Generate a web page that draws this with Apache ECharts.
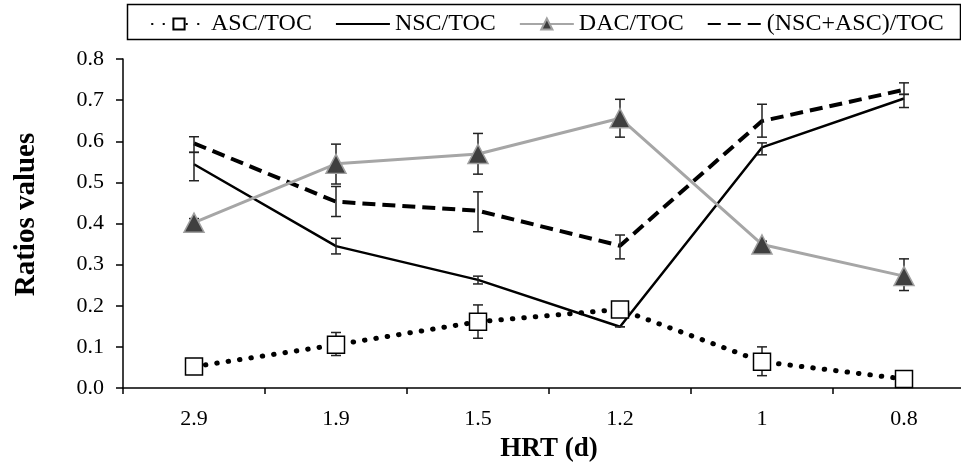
<!DOCTYPE html>
<html>
<head>
<meta charset="utf-8">
<script src="https://cdn.jsdelivr.net/npm/echarts@6/dist/echarts.min.js"></script>
<style>html,body{margin:0;padding:0;background:#fff;}#c{width:961px;height:468px;}</style>
</head>
<body>
<div id="c"></div>
<script>
const categories = ['2.9', '1.9', '1.5', '1.2', '1', '0.8'];
const yTicks = [0, 0.1, 0.2, 0.3, 0.4, 0.5, 0.6, 0.7, 0.8];

const ascToc = [0.052, 0.105, 0.161, 0.191, 0.064, 0.022];
const nscToc = [0.544, 0.345, 0.263, 0.149, 0.585, 0.704];
const dacToc = [0.402, 0.545, 0.569, 0.656, 0.349, 0.272];
const sumToc = [0.595, 0.453, 0.431, 0.346, 0.649, 0.725];

const ascErrLow  = [0.048, 0.079, 0.121, 0.185, 0.030, 0.020];
const ascErrHigh = [0.056, 0.135, 0.202, 0.197, 0.100, 0.025];
const nscErrLow  = [0.504, 0.326, 0.253, 0.149, 0.567, 0.682];
const nscErrHigh = [0.573, 0.364, 0.272, 0.149, 0.596, 0.714];
const dacErrLow  = [0.398, 0.496, 0.520, 0.610, 0.340, 0.237];
const dacErrHigh = [0.412, 0.593, 0.619, 0.702, 0.357, 0.314];
const sumErrLow  = [0.573, 0.417, 0.380, 0.314, 0.610, 0.714];
const sumErrHigh = [0.611, 0.490, 0.477, 0.372, 0.690, 0.742];

const FONT = 'Liberation Serif';

function errData(lo, hi) { return lo.map((l, i) => [i, l, hi[i]]); }
function errSeries(lo, hi) {
  return {
    type: 'custom',
    data: errData(lo, hi),
    z: 3,
    silent: true,
    renderItem: function (params, api) {
      const x = api.value(0);
      const a = api.coord([x, api.value(1)]);
      const b = api.coord([x, api.value(2)]);
      const w = 5;
      const st = { stroke: '#222', lineWidth: 1.5 };
      return {
        type: 'group',
        children: [
          { type: 'line', shape: { x1: a[0], y1: a[1], x2: b[0], y2: b[1] }, style: st },
          { type: 'line', shape: { x1: a[0] - w, y1: a[1], x2: a[0] + w, y2: a[1] }, style: st },
          { type: 'line', shape: { x1: b[0] - w, y1: b[1], x2: b[0] + w, y2: b[1] }, style: st }
        ]
      };
    }
  };
}

const hidden = { color: 'rgba(0,0,0,0)', borderWidth: 0, opacity: 0 };

const chart = echarts.init(document.getElementById('c'), null, { renderer: 'canvas' });
chart.setOption({
  animation: false,
  backgroundColor: '#fff',
  textStyle: { fontFamily: FONT },
  graphic: [{
    type: 'rect', left: 125, top: 2,
    shape: { width: 833, height: 35 },
    style: { fill: 'none', stroke: '#000', lineWidth: 1.5 }, z: 0
  }],
  legend: {
    top: 7, left: 146,
    itemWidth: 54, itemHeight: 14, itemGap: 23,
    textStyle: { fontFamily: FONT, fontSize: 24, color: '#000', padding: [0, 0, 0, 0] },
    data: [
      { name: 'ASC/TOC' },
      { name: 'NSC/TOC', itemStyle: hidden },
      { name: 'DAC/TOC' },
      { name: '(NSC+ASC)/TOC', itemStyle: hidden }
    ]
  },
  grid: { left: 123, width: 852, top: 59, bottom: 80, containLabel: false, outerBoundsMode: 'none' },
  xAxis: {
    type: 'category',
    data: categories,
    boundaryGap: true,
    name: 'HRT (d)',
    nameLocation: 'middle',
    nameGap: 48,
    nameTextStyle: { fontFamily: FONT, fontSize: 27, fontWeight: 'bold', color: '#000' },
    axisLine: { lineStyle: { color: '#000', width: 1.5 } },
    axisTick: { show: true, alignWithLabel: false, length: 6, lineStyle: { color: '#000', width: 1.5 } },
    axisLabel: { fontFamily: FONT, fontSize: 22, color: '#000', margin: 20 },
    splitLine: { show: false }
  },
  yAxis: {
    type: 'value',
    min: yTicks[0], max: yTicks[yTicks.length - 1], interval: 0.1,
    name: 'Ratios values',
    nameLocation: 'middle',
    nameGap: 82,
    nameTextStyle: { fontFamily: FONT, fontSize: 29, fontWeight: 'bold', color: '#000', padding: [0, 0, 0, 18] },
    axisLine: { show: true, lineStyle: { color: '#000', width: 1.5 } },
    axisTick: { show: true, inside: false, length: 7, lineStyle: { color: '#000', width: 1.5 } },
    axisLabel: { fontFamily: FONT, fontSize: 22, color: '#000', margin: 19, formatter: v => v.toFixed(1) },
    splitLine: { show: false }
  },
  series: [
    {
      name: 'ASC/TOC', type: 'line', data: ascToc, z: 4,
      symbol: 'rect', symbolSize: 17,
      itemStyle: { color: '#fff', borderColor: '#000', borderWidth: 1.5 },
      lineStyle: { color: '#000', width: 5, type: [0.5, 11], cap: 'round' }
    },
    {
      name: 'NSC/TOC', type: 'line', data: nscToc, z: 2,
      symbol: 'none',
      itemStyle: { color: '#000' },
      lineStyle: { color: '#000', width: 2.5, type: 'solid' }
    },
    {
      name: 'DAC/TOC', type: 'line', data: dacToc, z: 5,
      symbol: 'triangle', symbolSize: [20, 19],
      itemStyle: { color: '#3f3f3f', borderColor: '#a0a0a0', borderWidth: 1.5 },
      lineStyle: { color: '#a6a6a6', width: 3, type: 'solid' }
    },
    {
      name: '(NSC+ASC)/TOC', type: 'line', data: sumToc, z: 2,
      symbol: 'none',
      itemStyle: { color: '#000' },
      lineStyle: { color: '#000', width: 4, type: [13, 7] }
    },
    errSeries(ascErrLow, ascErrHigh),
    errSeries(nscErrLow, nscErrHigh),
    errSeries(dacErrLow, dacErrHigh),
    errSeries(sumErrLow, sumErrHigh)
  ]
});
</script>
</body>
</html>
